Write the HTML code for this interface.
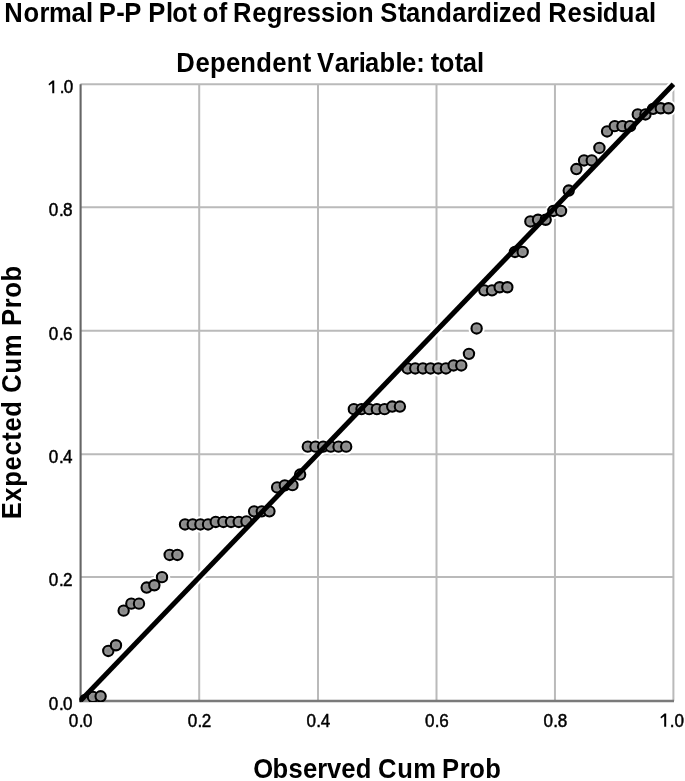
<!DOCTYPE html>
<html><head><meta charset="utf-8"><style>
html,body{margin:0;padding:0;background:#fff;}
body{width:685px;height:781px;overflow:hidden;}
svg{display:block;font-family:"Liberation Sans",sans-serif;filter:blur(0.65px);}
</style></head><body>
<svg width="685" height="781" viewBox="0 0 685 781">
<defs><radialGradient id="dg" cx="0.5" cy="0.5" r="0.5"><stop offset="0" stop-color="#858585"/><stop offset="1" stop-color="#9a9a9a"/></radialGradient><clipPath id="pc"><rect x="79.4" y="0" width="605" height="701.9"/></clipPath></defs>
<rect width="685" height="781" fill="#fff"/>
<g stroke="#bababa" stroke-width="2.0"><line x1="199.20" y1="700.80" x2="199.20" y2="84.30"/><line x1="318.00" y1="700.80" x2="318.00" y2="84.30"/><line x1="436.50" y1="700.80" x2="436.50" y2="84.30"/><line x1="554.96" y1="700.80" x2="554.96" y2="84.30"/><line x1="673.40" y1="700.80" x2="673.40" y2="84.30"/><line x1="80.40" y1="577.10" x2="673.40" y2="577.10"/><line x1="80.40" y1="454.20" x2="673.40" y2="454.20"/><line x1="80.40" y1="330.70" x2="673.40" y2="330.70"/><line x1="80.40" y1="207.30" x2="673.40" y2="207.30"/><line x1="80.40" y1="84.30" x2="673.40" y2="84.30"/></g>
<g fill="#fff" clip-path="url(#pc)"><circle cx="85.27" cy="700.00" r="8.20"/><circle cx="92.95" cy="696.90" r="8.20"/><circle cx="100.62" cy="696.30" r="8.20"/><circle cx="108.29" cy="650.95" r="8.20"/><circle cx="115.97" cy="645.25" r="8.20"/><circle cx="123.64" cy="610.65" r="8.20"/><circle cx="131.32" cy="603.65" r="8.20"/><circle cx="138.99" cy="603.65" r="8.20"/><circle cx="146.66" cy="587.55" r="8.20"/><circle cx="154.34" cy="585.25" r="8.20"/><circle cx="162.01" cy="577.15" r="8.20"/><circle cx="169.68" cy="554.95" r="8.20"/><circle cx="177.36" cy="554.95" r="8.20"/><circle cx="185.03" cy="524.45" r="8.20"/><circle cx="192.71" cy="524.45" r="8.20"/><circle cx="200.38" cy="524.45" r="8.20"/><circle cx="208.05" cy="524.45" r="8.20"/><circle cx="215.73" cy="521.95" r="8.20"/><circle cx="223.40" cy="521.95" r="8.20"/><circle cx="231.07" cy="521.95" r="8.20"/><circle cx="238.75" cy="521.95" r="8.20"/><circle cx="246.42" cy="521.45" r="8.20"/><circle cx="254.10" cy="511.35" r="8.20"/><circle cx="261.77" cy="511.35" r="8.20"/><circle cx="269.44" cy="511.35" r="8.20"/><circle cx="277.12" cy="487.45" r="8.20"/><circle cx="284.79" cy="485.35" r="8.20"/><circle cx="292.46" cy="485.15" r="8.20"/><circle cx="300.14" cy="474.55" r="8.20"/><circle cx="307.81" cy="446.65" r="8.20"/><circle cx="315.48" cy="446.65" r="8.20"/><circle cx="323.16" cy="446.65" r="8.20"/><circle cx="330.83" cy="446.65" r="8.20"/><circle cx="338.51" cy="446.65" r="8.20"/><circle cx="346.18" cy="446.65" r="8.20"/><circle cx="353.85" cy="409.15" r="8.20"/><circle cx="361.53" cy="409.15" r="8.20"/><circle cx="369.20" cy="409.15" r="8.20"/><circle cx="376.87" cy="409.15" r="8.20"/><circle cx="384.55" cy="409.15" r="8.20"/><circle cx="392.22" cy="406.55" r="8.20"/><circle cx="399.90" cy="406.55" r="8.20"/><circle cx="407.57" cy="368.45" r="8.20"/><circle cx="415.24" cy="368.45" r="8.20"/><circle cx="422.92" cy="368.45" r="8.20"/><circle cx="430.59" cy="368.45" r="8.20"/><circle cx="438.26" cy="368.45" r="8.20"/><circle cx="445.94" cy="368.45" r="8.20"/><circle cx="453.61" cy="365.45" r="8.20"/><circle cx="461.28" cy="365.45" r="8.20"/><circle cx="468.96" cy="353.85" r="8.20"/><circle cx="476.63" cy="328.45" r="8.20"/><circle cx="484.31" cy="290.35" r="8.20"/><circle cx="491.98" cy="290.35" r="8.20"/><circle cx="499.65" cy="287.25" r="8.20"/><circle cx="507.33" cy="287.25" r="8.20"/><circle cx="515.00" cy="251.95" r="8.20"/><circle cx="522.67" cy="251.95" r="8.20"/><circle cx="530.35" cy="221.45" r="8.20"/><circle cx="538.02" cy="219.75" r="8.20"/><circle cx="545.70" cy="219.75" r="8.20"/><circle cx="553.37" cy="210.95" r="8.20"/><circle cx="561.04" cy="210.95" r="8.20"/><circle cx="568.72" cy="190.55" r="8.20"/><circle cx="576.39" cy="169.05" r="8.20"/><circle cx="584.06" cy="160.45" r="8.20"/><circle cx="591.74" cy="160.45" r="8.20"/><circle cx="599.41" cy="147.95" r="8.20"/><circle cx="607.09" cy="131.45" r="8.20"/><circle cx="614.76" cy="126.15" r="8.20"/><circle cx="622.43" cy="126.15" r="8.20"/><circle cx="630.11" cy="126.15" r="8.20"/><circle cx="637.78" cy="114.45" r="8.20"/><circle cx="645.45" cy="114.45" r="8.20"/><circle cx="653.13" cy="108.85" r="8.20"/><circle cx="660.80" cy="108.25" r="8.20"/><circle cx="668.47" cy="108.25" r="8.20"/><line x1="80.40" y1="700.80" x2="673.40" y2="84.30" stroke="#fff" stroke-width="9.0"/></g>
<g fill="none"><line x1="80.6" y1="84.30" x2="80.6" y2="702.30" stroke="#666" stroke-width="2.1"/><line x1="79.55" y1="701.0" x2="674.00" y2="701.0" stroke="#7a7a7a" stroke-width="2.6"/></g>
<g fill="url(#dg)" stroke="#000" stroke-width="2.1" clip-path="url(#pc)"><circle cx="85.27" cy="700.00" r="5.15"/><circle cx="92.95" cy="696.90" r="5.15"/><circle cx="100.62" cy="696.30" r="5.15"/><circle cx="108.29" cy="650.95" r="5.15"/><circle cx="115.97" cy="645.25" r="5.15"/><circle cx="123.64" cy="610.65" r="5.15"/><circle cx="131.32" cy="603.65" r="5.15"/><circle cx="138.99" cy="603.65" r="5.15"/><circle cx="146.66" cy="587.55" r="5.15"/><circle cx="154.34" cy="585.25" r="5.15"/><circle cx="162.01" cy="577.15" r="5.15"/><circle cx="169.68" cy="554.95" r="5.15"/><circle cx="177.36" cy="554.95" r="5.15"/><circle cx="185.03" cy="524.45" r="5.15"/><circle cx="192.71" cy="524.45" r="5.15"/><circle cx="200.38" cy="524.45" r="5.15"/><circle cx="208.05" cy="524.45" r="5.15"/><circle cx="215.73" cy="521.95" r="5.15"/><circle cx="223.40" cy="521.95" r="5.15"/><circle cx="231.07" cy="521.95" r="5.15"/><circle cx="238.75" cy="521.95" r="5.15"/><circle cx="246.42" cy="521.45" r="5.15"/><circle cx="254.10" cy="511.35" r="5.15"/><circle cx="261.77" cy="511.35" r="5.15"/><circle cx="269.44" cy="511.35" r="5.15"/><circle cx="277.12" cy="487.45" r="5.15"/><circle cx="284.79" cy="485.35" r="5.15"/><circle cx="292.46" cy="485.15" r="5.15"/><circle cx="300.14" cy="474.55" r="5.15"/><circle cx="307.81" cy="446.65" r="5.15"/><circle cx="315.48" cy="446.65" r="5.15"/><circle cx="323.16" cy="446.65" r="5.15"/><circle cx="330.83" cy="446.65" r="5.15"/><circle cx="338.51" cy="446.65" r="5.15"/><circle cx="346.18" cy="446.65" r="5.15"/><circle cx="353.85" cy="409.15" r="5.15"/><circle cx="361.53" cy="409.15" r="5.15"/><circle cx="369.20" cy="409.15" r="5.15"/><circle cx="376.87" cy="409.15" r="5.15"/><circle cx="384.55" cy="409.15" r="5.15"/><circle cx="392.22" cy="406.55" r="5.15"/><circle cx="399.90" cy="406.55" r="5.15"/><circle cx="407.57" cy="368.45" r="5.15"/><circle cx="415.24" cy="368.45" r="5.15"/><circle cx="422.92" cy="368.45" r="5.15"/><circle cx="430.59" cy="368.45" r="5.15"/><circle cx="438.26" cy="368.45" r="5.15"/><circle cx="445.94" cy="368.45" r="5.15"/><circle cx="453.61" cy="365.45" r="5.15"/><circle cx="461.28" cy="365.45" r="5.15"/><circle cx="468.96" cy="353.85" r="5.15"/><circle cx="476.63" cy="328.45" r="5.15"/><circle cx="484.31" cy="290.35" r="5.15"/><circle cx="491.98" cy="290.35" r="5.15"/><circle cx="499.65" cy="287.25" r="5.15"/><circle cx="507.33" cy="287.25" r="5.15"/><circle cx="515.00" cy="251.95" r="5.15"/><circle cx="522.67" cy="251.95" r="5.15"/><circle cx="530.35" cy="221.45" r="5.15"/><circle cx="538.02" cy="219.75" r="5.15"/><circle cx="545.70" cy="219.75" r="5.15"/><circle cx="553.37" cy="210.95" r="5.15"/><circle cx="561.04" cy="210.95" r="5.15"/><circle cx="568.72" cy="190.55" r="5.15"/><circle cx="576.39" cy="169.05" r="5.15"/><circle cx="584.06" cy="160.45" r="5.15"/><circle cx="591.74" cy="160.45" r="5.15"/><circle cx="599.41" cy="147.95" r="5.15"/><circle cx="607.09" cy="131.45" r="5.15"/><circle cx="614.76" cy="126.15" r="5.15"/><circle cx="622.43" cy="126.15" r="5.15"/><circle cx="630.11" cy="126.15" r="5.15"/><circle cx="637.78" cy="114.45" r="5.15"/><circle cx="645.45" cy="114.45" r="5.15"/><circle cx="653.13" cy="108.85" r="5.15"/><circle cx="660.80" cy="108.25" r="5.15"/><circle cx="668.47" cy="108.25" r="5.15"/></g>
<line x1="80.40" y1="700.80" x2="673.40" y2="84.30" stroke="#000" stroke-width="5.0" clip-path="url(#pc)"/>
<g font-size="17.07" fill="#000" stroke="#000" stroke-width="0.45"><text transform="translate(72.5,709.80) scale(1,1.06)" text-anchor="end">0<tspan dx="0.7">.</tspan><tspan dx="-0.7">0</tspan></text><text transform="translate(80.70,726.6) scale(1,1.06)" text-anchor="middle">0<tspan dx="0.4">.</tspan><tspan dx="-0.4">0</tspan></text><text transform="translate(72.5,586.10) scale(1,1.06)" text-anchor="end">0<tspan dx="0.7">.</tspan><tspan dx="-0.7">2</tspan></text><text transform="translate(199.50,726.6) scale(1,1.06)" text-anchor="middle">0<tspan dx="0.4">.</tspan><tspan dx="-0.4">2</tspan></text><text transform="translate(72.5,463.20) scale(1,1.06)" text-anchor="end">0<tspan dx="0.7">.</tspan><tspan dx="-0.7">4</tspan></text><text transform="translate(318.30,726.6) scale(1,1.06)" text-anchor="middle">0<tspan dx="0.4">.</tspan><tspan dx="-0.4">4</tspan></text><text transform="translate(72.5,339.70) scale(1,1.06)" text-anchor="end">0<tspan dx="0.7">.</tspan><tspan dx="-0.7">6</tspan></text><text transform="translate(436.80,726.6) scale(1,1.06)" text-anchor="middle">0<tspan dx="0.4">.</tspan><tspan dx="-0.4">6</tspan></text><text transform="translate(72.5,216.30) scale(1,1.06)" text-anchor="end">0<tspan dx="0.7">.</tspan><tspan dx="-0.7">8</tspan></text><text transform="translate(555.26,726.6) scale(1,1.06)" text-anchor="middle">0<tspan dx="0.4">.</tspan><tspan dx="-0.4">8</tspan></text><text transform="translate(72.5,93.30) scale(1,1.06)" text-anchor="end"><tspan dx="0.7">.</tspan><tspan dx="-0.7">0</tspan></text><text transform="translate(684.00,726.6) scale(1,1.06)" text-anchor="end"><tspan dx="0.0">.</tspan><tspan dx="-0.0">0</tspan></text></g>
<g fill="#000"><path d="M54.25 80.60 V93.30 H52.25 V83.20 L49.05 85.60 L48.55 84.10 L52.55 80.60 Z"/><path d="M666.20 713.60 V726.80 H664.20 V716.20 L661.00 718.60 L660.50 717.10 L664.50 713.60 Z"/></g>
<g font-size="25.6" font-weight="bold" fill="#000"><text transform="translate(0,21.7) scale(1,1.06)" x="4.30 23.50 39.50 49.10 71.50 85.90 92.30 98.70 116.30 124.30 141.90 148.30 165.90 172.30 188.30 196.30 202.70 218.70 226.70 233.10 252.30 266.70 282.70 292.30 306.70 321.10 335.50 341.90 357.90 373.90 380.30 397.90 405.90 420.30 436.30 452.30 466.70 476.30 492.30 498.70 511.50 525.90 541.90 548.30 567.50 581.90 596.30 602.70 618.70 634.70 649.10">Normal P-P Plot of Regression Standardized Residual</text><text transform="translate(0,71.7) scale(1,1.06)" x="176.30 195.50 209.90 225.90 240.30 256.30 272.30 286.70 302.70 310.70 317.10 334.70 349.10 358.70 365.10 379.50 395.50 401.90 416.30 424.30 430.70 438.70 454.70 462.70 477.10">Dependent Variable: total</text><text transform="translate(0,778.3) scale(1,1.06)" x="253.30 272.50 288.50 302.90 317.30 326.90 341.30 355.70 371.70 378.10 397.30 413.30 435.70 442.10 459.70 469.30 485.30">Observed Cum Prob</text><text transform="translate(20.6,392.6) rotate(-90) scale(1,1.06)" text-anchor="middle" textLength="253.5" lengthAdjust="spacing">Expected Cum Prob</text></g>
</svg>
</body></html>
